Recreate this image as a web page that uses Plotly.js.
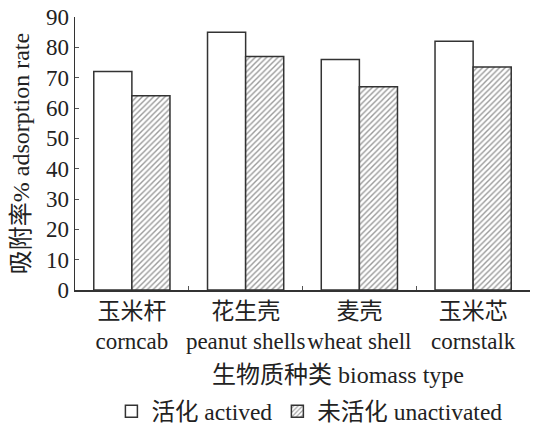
<!DOCTYPE html>
<html><head><meta charset="utf-8">
<script src="https://cdn.plot.ly/plotly-3.0.1.min.js"></script>
<style>body{margin:0;background:#fff}#c{width:534px;height:425px}</style>
</head><body><div id="c"></div>
<script>
const categories = ["玉米杆<br>corncab", "花生壳<br>peanut shells", "麦壳<br>wheat shell", "玉米芯<br>cornstalk"];
const activated = [72, 85, 76, 82];
const unactivated = [64, 77, 67, 73.5];
const yTicks = [0, 10, 20, 30, 40, 50, 60, 70, 80, 90];
const seriesNames = ["活化 actived", "未活化 unactivated"];
const xTitle = "生物质种类 biomass type";
const yTitle = "吸附率% adsorption rate";

const F = "Liberation Serif, Times New Roman, Noto Sans CJK SC, serif";
const data = [
  {type: "bar", x: categories, y: activated, name: seriesNames[0],
   marker: {color: "#ffffff", line: {color: "#333333", width: 1.5}}},
  {type: "bar", x: categories, y: unactivated, name: seriesNames[1],
   marker: {color: "#ffffff", line: {color: "#333333", width: 1.5},
            pattern: {shape: "/", fgcolor: "#9a9a9a", bgcolor: "#ffffff", size: 4, solidity: 0.35}}}
];
const layout = {
  width: 534, height: 425,
  margin: {l: 75, r: 4, t: 17, b: 135, autoexpand: false},
  paper_bgcolor: "#fff", plot_bgcolor: "#fff",
  font: {family: F, size: 22, color: "#222"},
  barmode: "group", bargap: 0.33, bargroupgap: 0,
  showlegend: true,
  legend: {orientation: "h", x: 0.08, xanchor: "left", yref: "container", y: 0.032, yanchor: "middle",
           font: {family: F, size: 23.5, color: "#222"}, itemwidth: 30, tracegroupgap: 0},
  xaxis: {type: "category", showline: true, linecolor: "#333", linewidth: 1.5,
          ticks: "inside", tickson: "boundaries", ticklen: 4, tickcolor: "#555",
          tickangle: 0, automargin: false,
          tickfont: {family: F, size: 23, color: "#222"},
          showgrid: false, zeroline: false},
  yaxis: {range: [0, 90], tickvals: yTicks, showline: true, linecolor: "#333", linewidth: 1.5,
          ticks: "inside", ticklen: 4, tickcolor: "#555", showgrid: false, zeroline: false,
          automargin: false,
          tickfont: {family: F, size: 23, color: "#222"},
          title: {text: yTitle, font: {family: F, size: 24, color: "#222"}, standoff: 9}},
  annotations: [{text: xTitle, xref: "paper", yref: "paper", x: 0.578, y: -0.311,
                 xanchor: "center", yanchor: "middle", showarrow: false,
                 font: {family: F, size: 24, color: "#222"}}]
};
Plotly.newPlot("c", data, layout, {displayModeBar: false, staticPlot: true});
</script></body></html>
